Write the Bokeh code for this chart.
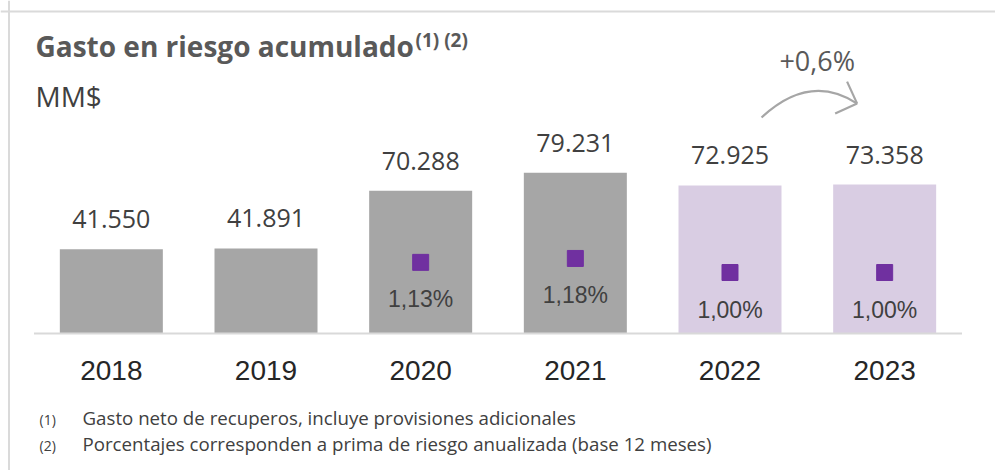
from bokeh.plotting import figure
from bokeh.models import ColumnDataSource, Range1d, FactorRange, Label, Span
from bokeh.core.properties import value
from bokeh.embed import file_html
from bokeh.resources import INLINE

# ---------------- data ----------------
years = ["2018", "2019", "2020", "2021", "2022", "2023"]
gasto = [41550, 41891, 70288, 79231, 72925, 73358]          # MM$
tipo = ["real", "real", "real", "real", "proy", "proy"]
pct_years = ["2020", "2021", "2022", "2023"]
prima = [1.13, 1.18, 1.00, 1.00]                             # % prima de riesgo

title_text = "Gasto en riesgo acumulado"
title_sup = "(1) (2)"
unit_text = "MM$"
notes_num = ["(1)", "(2)"]
notes_text = ["Gasto neto de recuperos, incluye provisiones adicionales",
              "Porcentajes corresponden a prima de riesgo anualizada (base 12 meses)"]

# ---------------- styles ----------------
COL = {"real": "#a6a6a6", "proy": "#d9cde3"}
PURPLE = "#7030a0"
W, H = 995, 470
PXU = 154.67           # px per category
PAD = 0.2166           # category units of padding on each side
K = 0.00203            # px per MM$
BASE_PX = 333          # baseline distance from top of figure (px)
y_end = BASE_PX / K
y_start = -(H - BASE_PX) / K
PK = 78.0              # px per percentage point
P_REF_PX = 272         # 1.00% position from top
p_end = 1.0 + P_REF_PX / PK
p_start = 1.0 - (H - P_REF_PX) / PK

def fmt_miles(v):
    return f"{v:,}".replace(",", ".")

def fmt_pct(v):
    return f"{v:.2f}%".replace(".", ",")

src = ColumnDataSource(dict(
    year=years, v=gasto, lbl=[fmt_miles(v) for v in gasto],
    color=[COL[t] for t in tipo], zero=[0] * len(years)))
psrc = ColumnDataSource(dict(year=pct_years, p=prima, lbl=[fmt_pct(v) for v in prima]))

p = figure(width=W, height=H,
           x_range=FactorRange(factors=years, range_padding=PAD, range_padding_units="absolute"),
           y_range=Range1d(y_start, y_end),
           output_backend="svg", toolbar_location=None,
           x_axis_location=None, y_axis_location=None,
           min_border=0, outline_line_color=None)
p.extra_y_ranges = {"pct": Range1d(p_start, p_end)}
p.grid.visible = False
p.background_fill_color = "white"
p.border_fill_color = "white"

# card border (top and left)
p.add_layout(Span(location=y_end - 11 / K, dimension="width", line_color="#dadada", line_width=2))
p.add_layout(Span(location=-PAD + 8.5 / PXU, dimension="height", line_color="#dadada", line_width=2))

# bars
p.vbar(x="year", top="v", bottom=0, width=0.666, color="color", line_color=None, source=src)

# baseline
p.segment(x0=[0], y0=[0], x1=[len(years)], y1=[0], line_color="#d9d9d9", line_width=2)

# value labels
p.text(x="year", y="v", text="lbl", source=src, text_font=value("Open Sans"),
       text_font_size="25px", text_color="#404040", text_align="center",
       text_baseline="alphabetic", y_offset=-30)

# year labels
p.text(x="year", y="zero", text="year", source=src, text_font=value("Liberation Sans"),
       text_font_size="28px", text_color="#262626", text_align="center",
       text_baseline="alphabetic", y_offset=37)

# prima markers and labels
p.scatter(x="year", y="p", source=psrc, y_range_name="pct", marker="square", size=16,
          fill_color=PURPLE, line_color=PURPLE)
p.text(x="year", y="p", text="lbl", source=psrc, y_range_name="pct",
       text_font=value("Liberation Sans"), text_font_size="23px", text_color="#404040",
       text_align="center", text_baseline="alphabetic", y_offset=37)

# variation arrow 2022 -> 2023
i0 = years.index("2022") + 0.5
i1 = years.index("2023") + 0.5
b0, b1 = gasto[4], gasto[5]
var = (gasto[5] / gasto[4] - 1) * 100
var_txt = ("+" if var >= 0 else "") + f"{var:.1f}%".replace(".", ",")
AR = "#a6a6a6"
p.quadratic(x0=[i0 + 0.204], y0=[b0 + 68 / K], x1=[i1 - 0.178], y1=[b1 + 81 / K],
            cx=[i0 + 0.517], cy=[b0 + 113 / K], line_color=AR, line_width=2.2)
p.segment(x0=[i1 - 0.178, i1 - 0.178], y0=[b1 + 81 / K, b1 + 81 / K],
          x1=[i1 - 0.243, i1 - 0.320], y1=[b1 + 103 / K, b1 + 71 / K],
          line_color=AR, line_width=2.2)
p.text(x=[i1 - 0.436], y=[b1 + 124 / K], text=[var_txt], text_font=value("Open Sans"),
       text_font_size="27px", text_color="#595959", text_align="center",
       text_baseline="alphabetic")

# titles (screen units, origin bottom-left of figure)
p.add_layout(Label(x=35, y=H - 45, x_units="screen", y_units="screen", text=title_text,
                   text_font="Open Sans", text_font_style="bold", text_font_size="28px",
                   text_color="#595959", text_baseline="alphabetic"))
p.add_layout(Label(x=415, y=H - 39, x_units="screen", y_units="screen", text=title_sup,
                   text_font="Open Sans", text_font_style="bold", text_font_size="19px",
                   text_color="#595959", text_baseline="alphabetic"))
p.add_layout(Label(x=35, y=H - 95, x_units="screen", y_units="screen", text=unit_text,
                   text_font="Open Sans", text_font_size="28px",
                   text_color="#404040", text_baseline="alphabetic"))

# footnotes
for k, (n, t) in enumerate(zip(notes_num, notes_text)):
    yb = H - (424 + 26 * k)
    p.add_layout(Label(x=39, y=yb + 5, x_units="screen", y_units="screen", text=n,
                       text_font="Open Sans", text_font_size="14px",
                       text_color="#404040", text_baseline="alphabetic"))
    p.add_layout(Label(x=82, y=yb + 7, x_units="screen", y_units="screen", text=t,
                       text_font="Open Sans", text_font_size="18.7px",
                       text_color="#404040", text_baseline="alphabetic"))

open("out.html", "w").write(file_html(p, INLINE))
